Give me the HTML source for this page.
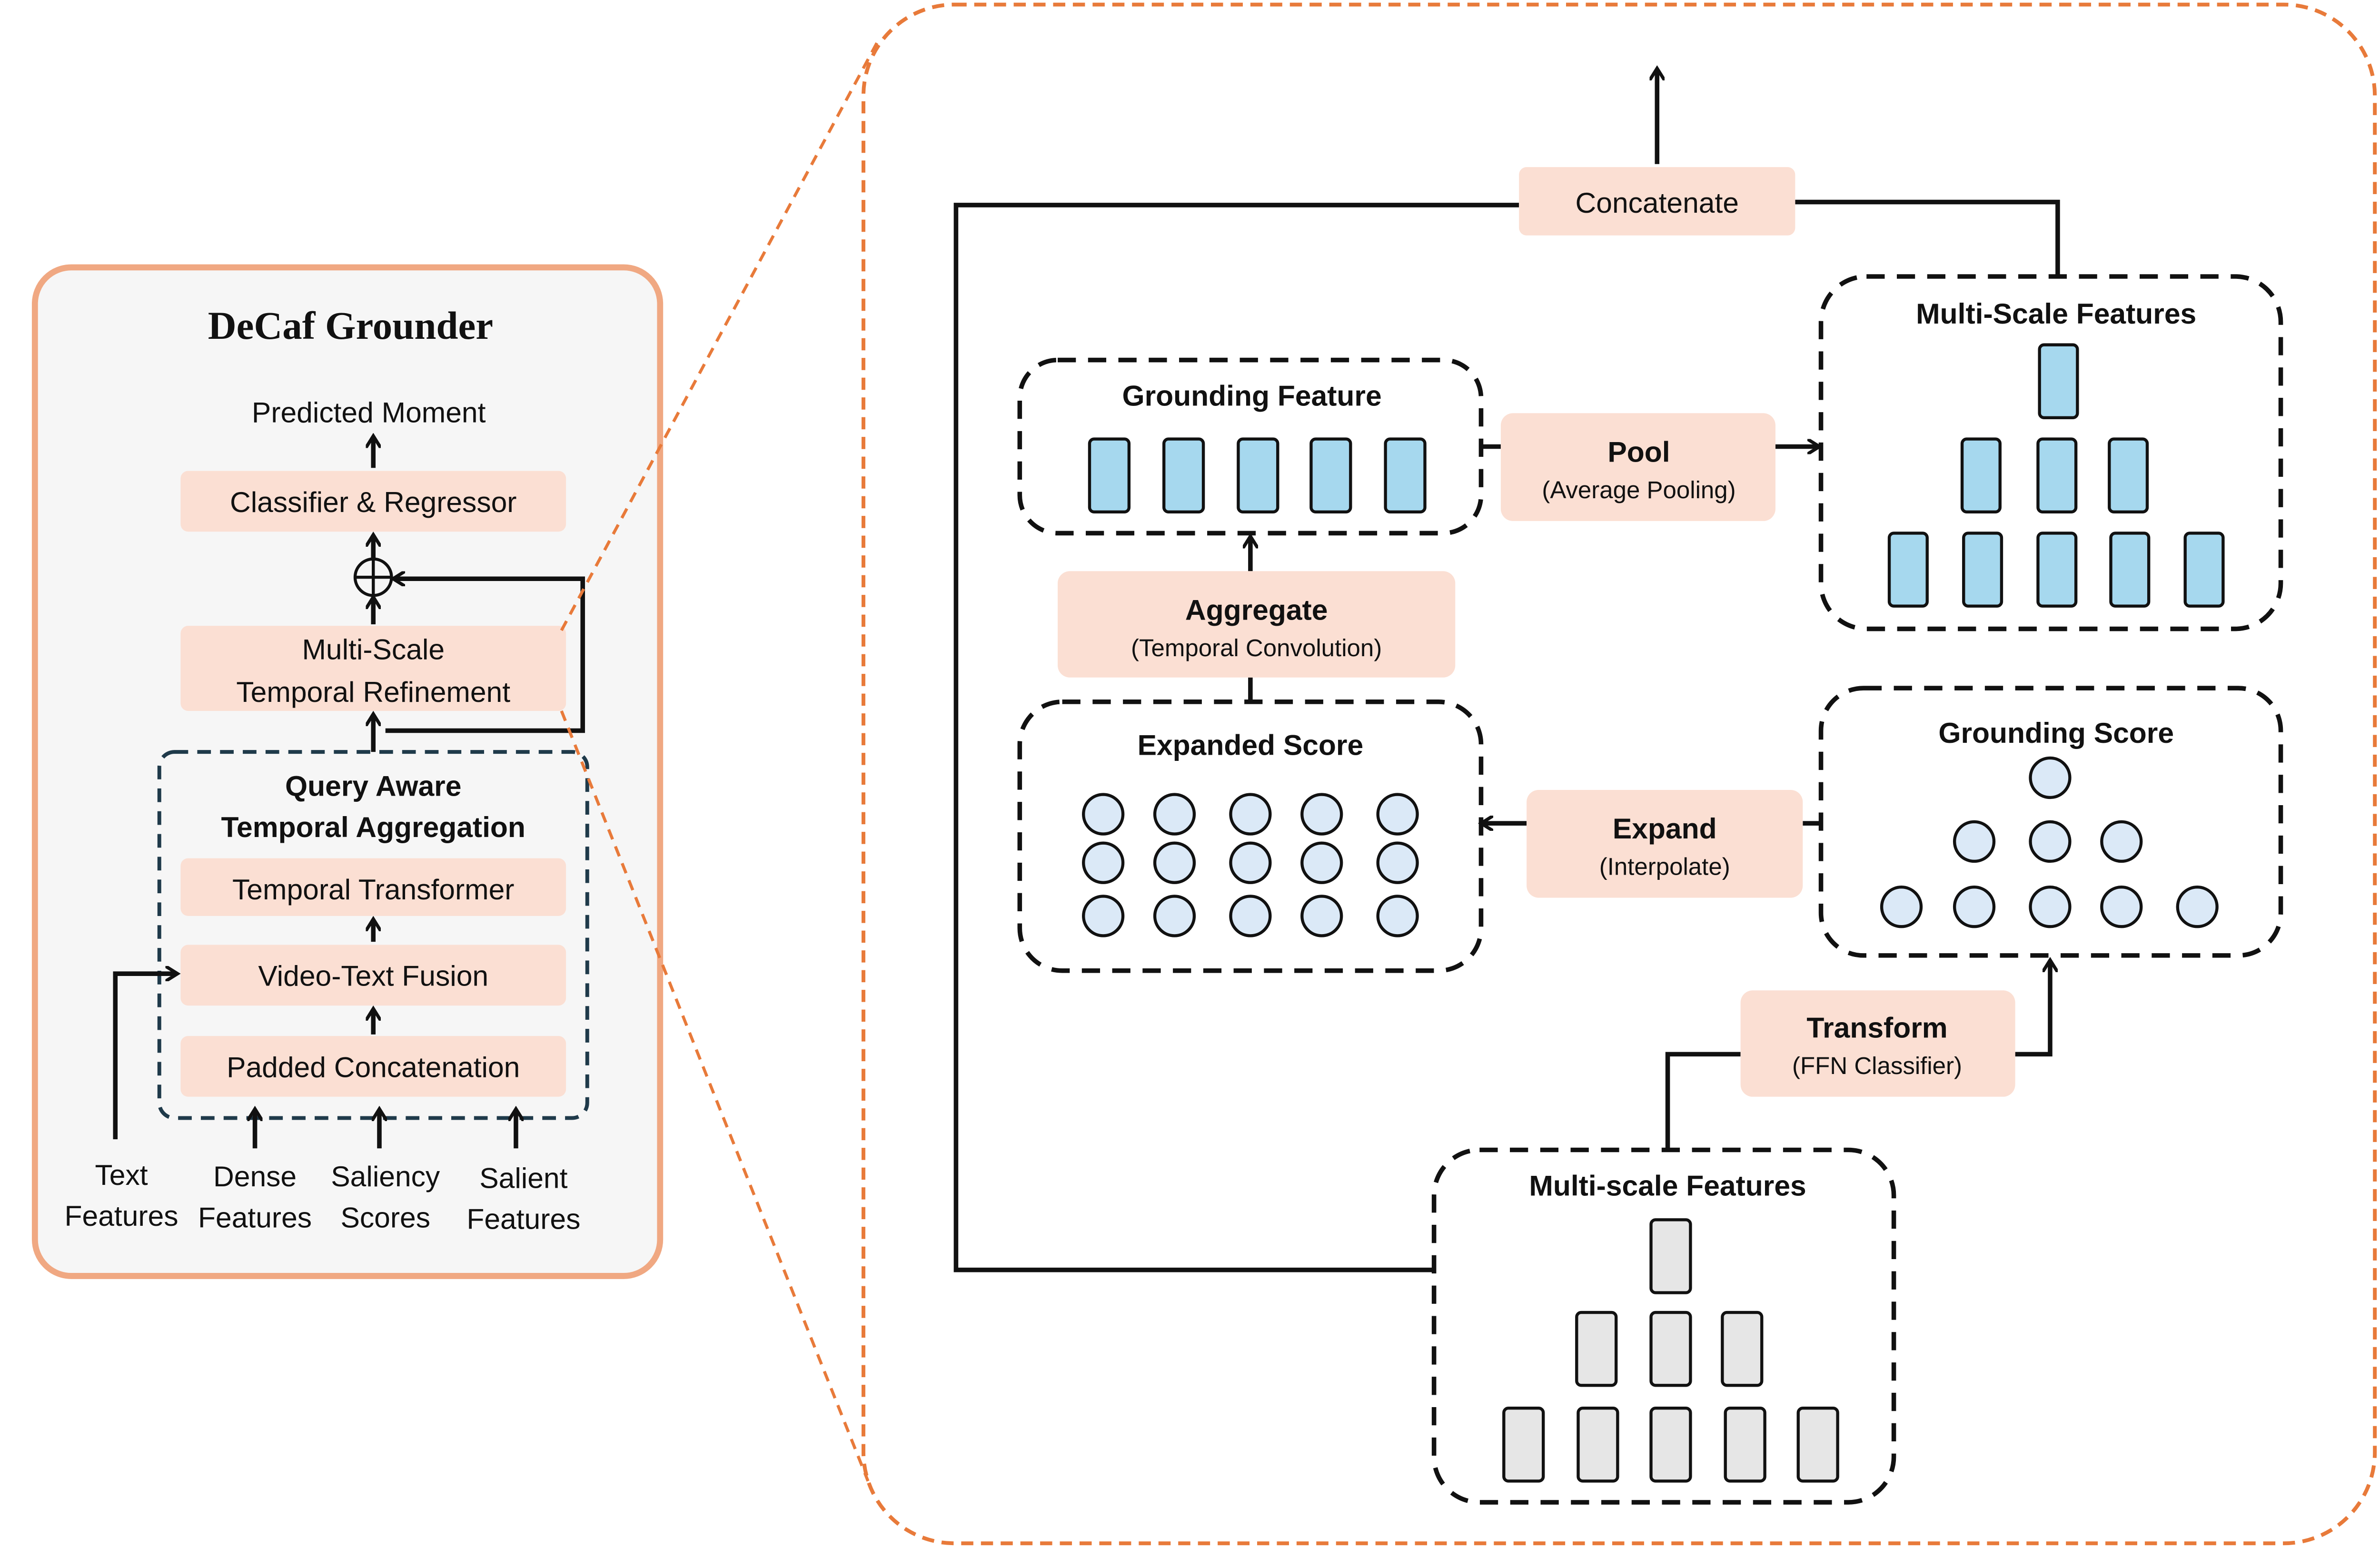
<!DOCTYPE html>
<html><head><meta charset="utf-8">
<style>
html,body{margin:0;padding:0;background:#fff;}
svg{display:block;}
text{font-family:"Liberation Sans",sans-serif;fill:#111;}
.t{font-size:19px;text-anchor:middle;}
.b{font-size:19px;font-weight:bold;text-anchor:middle;}
.s{font-size:16px;text-anchor:middle;}
.pk{fill:#fbdfd3;stroke:none;}
.ln{stroke:#111;stroke-width:3;fill:none;}
.dbox{fill:#fff;stroke:#111;stroke-width:3;stroke-dasharray:12 8;}
.bl{fill:#a6d8ee;stroke:#111;stroke-width:2;}
.gr{fill:#e6e6e6;stroke:#111;stroke-width:2;}
.ci{fill:#dbe9f7;stroke:#111;stroke-width:2;}
</style></head><body>
<svg width="5037" height="3272" viewBox="0 0 1580 1025" preserveAspectRatio="none" xmlns="http://www.w3.org/2000/svg">
<defs>
<marker id="a" markerWidth="10" markerHeight="10" refX="7" refY="5" orient="auto" markerUnits="userSpaceOnUse">
<path d="M0,0 L8,5 L0,10" fill="none" stroke="#111" stroke-width="2.2"/>
</marker>
</defs>
<rect x="0" y="0" width="1580" height="1025" fill="#fff"/>
<!-- Left panel -->
<rect x="23" y="176" width="412" height="664" rx="24" fill="#f6f6f6" stroke="#f0a882" stroke-width="4"/>
<text x="231" y="223" style="font-family:'Liberation Serif',serif;font-size:26px;font-weight:bold;text-anchor:middle">DeCaf Grounder</text>
<text class="t" x="243" y="278">Predicted Moment</text>
<line class="ln" x1="246" y1="308" x2="246" y2="288" marker-end="url(#a)"/>
<rect class="pk" x="119" y="310" width="254" height="40" rx="5"/>
<text class="t" x="246" y="337">Classifier &amp; Regressor</text>
<line class="ln" x1="246" y1="368" x2="246" y2="353" marker-end="url(#a)"/>
<circle cx="246" cy="380" r="12" fill="none" stroke="#111" stroke-width="2"/>
<line x1="234" y1="380" x2="258" y2="380" stroke="#111" stroke-width="2"/>
<line x1="246" y1="368" x2="246" y2="392" stroke="#111" stroke-width="2"/>
<line class="ln" x1="246" y1="411" x2="246" y2="394" marker-end="url(#a)"/>
<rect class="pk" x="119" y="412" width="254" height="56" rx="5"/>
<text class="t" x="246" y="434">Multi-Scale</text>
<text class="t" x="246" y="462">Temporal Refinement</text>
<polyline class="ln" points="254,481 384,481 384,381 260,381" marker-end="url(#a)"/>
<line class="ln" x1="246" y1="495" x2="246" y2="471" marker-end="url(#a)"/>
<rect x="105" y="495" width="282" height="241" rx="10" fill="none" stroke="#1f3a4a" stroke-width="2.5" stroke-dasharray="9 6"/>
<text class="b" x="246" y="524">Query Aware</text>
<text class="b" x="246" y="551">Temporal Aggregation</text>
<rect class="pk" x="119" y="565" width="254" height="38" rx="5"/>
<text class="t" x="246" y="592">Temporal Transformer</text>
<line class="ln" x1="246" y1="620" x2="246" y2="606" marker-end="url(#a)"/>
<rect class="pk" x="119" y="622" width="254" height="40" rx="5"/>
<text class="t" x="246" y="649">Video-Text Fusion</text>
<line class="ln" x1="246" y1="681" x2="246" y2="665" marker-end="url(#a)"/>
<rect class="pk" x="119" y="682" width="254" height="40" rx="5"/>
<text class="t" x="246" y="709">Padded Concatenation</text>
<polyline class="ln" points="76,750 76,641 116,641" marker-end="url(#a)"/>
<line class="ln" x1="168" y1="756" x2="168" y2="731" marker-end="url(#a)"/>
<line class="ln" x1="250" y1="756" x2="250" y2="731" marker-end="url(#a)"/>
<line class="ln" x1="340" y1="756" x2="340" y2="731" marker-end="url(#a)"/>
<text class="t" x="80" y="780">Text</text><text class="t" x="80" y="807">Features</text>
<text class="t" x="168" y="781">Dense</text><text class="t" x="168" y="808">Features</text>
<text class="t" x="254" y="781">Saliency</text><text class="t" x="254" y="808">Scores</text>
<text class="t" x="345" y="782">Salient</text><text class="t" x="345" y="809">Features</text>
<!-- zoom lines -->
<line x1="370" y1="415" x2="578" y2="28" stroke="#e87a3a" stroke-width="2" stroke-dasharray="7 5"/>
<line x1="370" y1="468" x2="572" y2="975" stroke="#e87a3a" stroke-width="2" stroke-dasharray="7 5"/>
<rect x="569" y="3" width="996" height="1013" rx="60" fill="none" stroke="#e87a3a" stroke-width="2.5" stroke-dasharray="8 5"/>
<!-- Right -->
<line class="ln" x1="1092" y1="108" x2="1092" y2="46" marker-end="url(#a)"/>
<polyline class="ln" points="1001,135 630,135 630,836 945,836"/>
<polyline class="ln" points="1183,133 1356,133 1356,183"/>
<rect class="pk" x="1001" y="110" width="182" height="45" rx="5"/>
<text class="t" x="1092" y="140">Concatenate</text>

<rect class="dbox" x="1200" y="182" width="303" height="232" rx="30"/>
<text class="b" x="1355" y="213">Multi-Scale Features</text>
<rect class="bl" x="1344" y="227" width="25" height="48" rx="3"/>
<rect class="bl" x="1293" y="289" width="25" height="48" rx="3"/>
<rect class="bl" x="1343" y="289" width="25" height="48" rx="3"/>
<rect class="bl" x="1390" y="289" width="25" height="48" rx="3"/>
<rect class="bl" x="1245" y="351" width="25" height="48" rx="3"/>
<rect class="bl" x="1294" y="351" width="25" height="48" rx="3"/>
<rect class="bl" x="1343" y="351" width="25" height="48" rx="3"/>
<rect class="bl" x="1391" y="351" width="25" height="48" rx="3"/>
<rect class="bl" x="1440" y="351" width="25" height="48" rx="3"/>

<rect class="dbox" x="672" y="237" width="304" height="114" rx="25"/>
<text class="b" x="825" y="267">Grounding Feature</text>
<rect class="bl" x="718" y="289" width="26" height="48" rx="3"/>
<rect class="bl" x="767" y="289" width="26" height="48" rx="3"/>
<rect class="bl" x="816" y="289" width="26" height="48" rx="3"/>
<rect class="bl" x="864" y="289" width="26" height="48" rx="3"/>
<rect class="bl" x="913" y="289" width="26" height="48" rx="3"/>

<line class="ln" x1="976" y1="294" x2="989" y2="294"/>
<line class="ln" x1="1170" y1="294" x2="1198" y2="294" marker-end="url(#a)"/>
<rect class="pk" x="989" y="272" width="181" height="71" rx="8"/>
<text class="b" x="1080" y="304">Pool</text>
<text class="s" x="1080" y="328">(Average Pooling)</text>

<line class="ln" x1="824" y1="462" x2="824" y2="446"/>
<line class="ln" x1="824" y1="376" x2="824" y2="354" marker-end="url(#a)"/>
<rect class="pk" x="697" y="376" width="262" height="70" rx="8"/>
<text class="b" x="828" y="408">Aggregate</text>
<text class="s" x="828" y="432">(Temporal Convolution)</text>

<rect class="dbox" x="672" y="462" width="304" height="177" rx="28"/>
<text class="b" x="824" y="497">Expanded Score</text>
<g>
<circle class="ci" cx="727" cy="536" r="13"/><circle class="ci" cx="774" cy="536" r="13"/><circle class="ci" cx="824" cy="536" r="13"/><circle class="ci" cx="871" cy="536" r="13"/><circle class="ci" cx="921" cy="536" r="13"/>
<circle class="ci" cx="727" cy="568" r="13"/><circle class="ci" cx="774" cy="568" r="13"/><circle class="ci" cx="824" cy="568" r="13"/><circle class="ci" cx="871" cy="568" r="13"/><circle class="ci" cx="921" cy="568" r="13"/>
<circle class="ci" cx="727" cy="603" r="13"/><circle class="ci" cx="774" cy="603" r="13"/><circle class="ci" cx="824" cy="603" r="13"/><circle class="ci" cx="871" cy="603" r="13"/><circle class="ci" cx="921" cy="603" r="13"/>
</g>

<line class="ln" x1="1006" y1="542" x2="977" y2="542" marker-end="url(#a)"/>
<line class="ln" x1="1188" y1="542" x2="1200" y2="542"/>
<rect class="pk" x="1006" y="520" width="182" height="71" rx="8"/>
<text class="b" x="1097" y="552">Expand</text>
<text class="s" x="1097" y="576">(Interpolate)</text>

<rect class="dbox" x="1200" y="453" width="303" height="176" rx="28"/>
<text class="b" x="1355" y="489">Grounding Score</text>
<circle class="ci" cx="1351" cy="512" r="13"/>
<circle class="ci" cx="1301" cy="554" r="13"/><circle class="ci" cx="1351" cy="554" r="13"/><circle class="ci" cx="1398" cy="554" r="13"/>
<circle class="ci" cx="1253" cy="597" r="13"/><circle class="ci" cx="1301" cy="597" r="13"/><circle class="ci" cx="1351" cy="597" r="13"/><circle class="ci" cx="1398" cy="597" r="13"/><circle class="ci" cx="1448" cy="597" r="13"/>

<polyline class="ln" points="1099,757 1099,694 1147,694"/>
<polyline class="ln" points="1328,694 1351,694 1351,633" marker-end="url(#a)"/>
<rect class="pk" x="1147" y="652" width="181" height="70" rx="8"/>
<text class="b" x="1237" y="683">Transform</text>
<text class="s" x="1237" y="707">(FFN Classifier)</text>

<rect class="dbox" x="945" y="757" width="303" height="232" rx="30"/>
<text class="b" x="1099" y="787">Multi-scale Features</text>
<rect class="gr" x="1088" y="803" width="26" height="48" rx="3"/>
<rect class="gr" x="1039" y="864" width="26" height="48" rx="3"/>
<rect class="gr" x="1088" y="864" width="26" height="48" rx="3"/>
<rect class="gr" x="1135" y="864" width="26" height="48" rx="3"/>
<rect class="gr" x="991" y="927" width="26" height="48" rx="3"/>
<rect class="gr" x="1040" y="927" width="26" height="48" rx="3"/>
<rect class="gr" x="1088" y="927" width="26" height="48" rx="3"/>
<rect class="gr" x="1137" y="927" width="26" height="48" rx="3"/>
<rect class="gr" x="1185" y="927" width="26" height="48" rx="3"/>
</svg>
</body></html>
